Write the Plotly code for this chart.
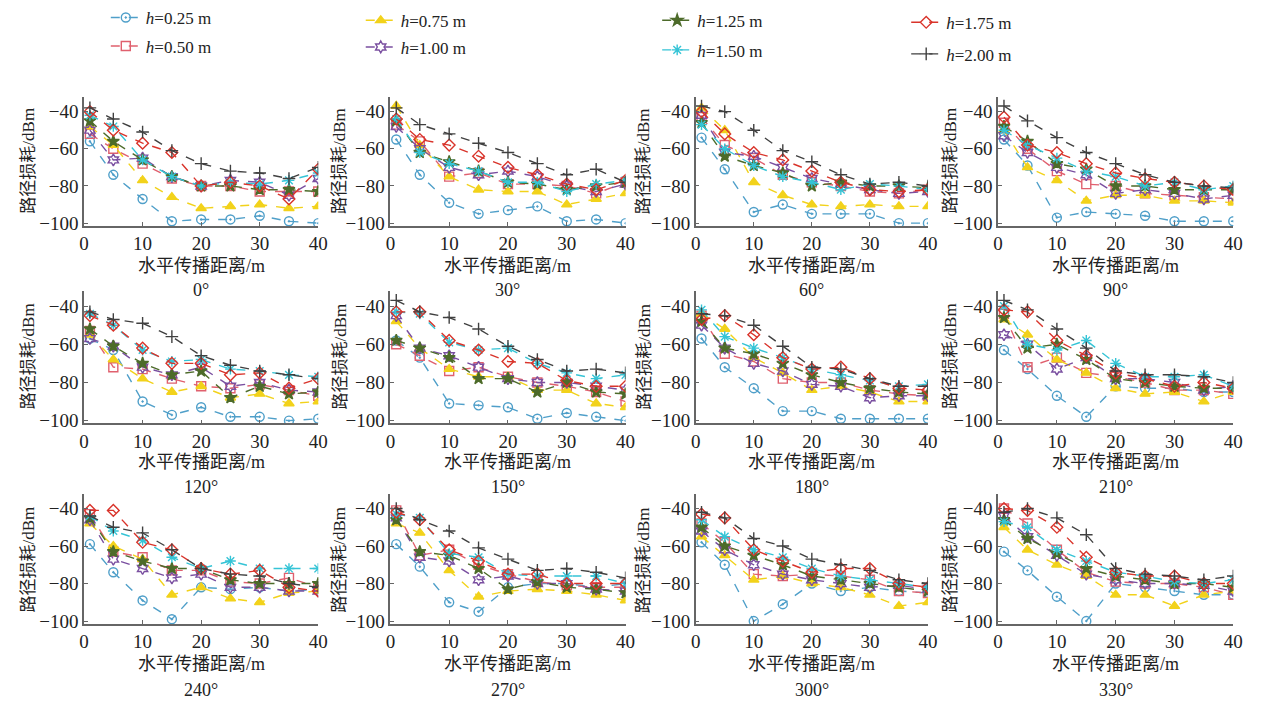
import plotly.graph_objects as go

# Horizontal propagation distance (m) at each measuring point
distance = [1, 5, 10, 15, 20, 25, 30, 35, 40]

# Antenna heights and their styles
heights = ["0.25", "0.50", "0.75", "1.00", "1.25", "1.50", "1.75", "2.00"]
colors = ["#4f9fc9", "#e0606e", "#f2d21b", "#7a4fa0", "#4d6b2a", "#35c4d6", "#d9342b", "#404040"]
symbols = ["circle-open-dot", "square-open", "triangle-up", "hexagram-open",
           "star", "asterisk-open", "diamond-open", "cross-thin-open"]

angles = ["0°", "30°", "60°", "90°", "120°", "150°", "180°", "210°", "240°", "270°", "300°", "330°"]

# Path loss (dBm) per azimuth, one list per height (0.25 ... 2.00 m)
loss_0 = [
    [-56, -74, -87, -99, -98, -98, -96, -99, -100],
    [-52, -60, -68, -76, -80, -80, -83, -83, -83],
    [-48, -58, -77, -86, -92, -91, -90, -92, -91],
    [-50, -66, -65, -75, -80, -77, -78, -85, -76],
    [-45, -56, -66, -75, -80, -80, -82, -82, -83],
    [-42, -48, -66, -75, -80, -78, -79, -77, -73],
    [-40, -50, -57, -62, -80, -78, -80, -87, -71],
    [-38, -44, -51, -61, -68, -72, -73, -76, -70],
]
loss_30 = [
    [-55, -74, -89, -95, -93, -91, -99, -98, -100],
    [-47, -56, -75, -73, -79, -79, -80, -84, -78],
    [-37, -58, -75, -82, -83, -83, -90, -87, -84],
    [-48, -60, -70, -74, -72, -75, -80, -83, -79],
    [-45, -62, -67, -72, -78, -79, -82, -80, -78],
    [-44, -62, -68, -72, -78, -78, -83, -79, -77],
    [-44, -55, -58, -64, -70, -74, -79, -82, -77],
    [-38, -47, -52, -57, -62, -68, -74, -71, -78],
]
loss_60 = [
    [-54, -71, -94, -90, -95, -95, -95, -100, -100],
    [-43, -58, -65, -74, -78, -80, -83, -84, -82],
    [-38, -50, -78, -85, -90, -91, -90, -91, -91],
    [-42, -62, -64, -70, -76, -79, -82, -84, -83],
    [-46, -64, -69, -73, -80, -78, -80, -80, -81],
    [-47, -60, -69, -75, -78, -82, -79, -80, -82],
    [-40, -52, -62, -66, -72, -78, -82, -83, -82],
    [-37, -40, -50, -61, -67, -74, -79, -78, -80],
]
loss_90 = [
    [-55, -69, -97, -94, -95, -96, -99, -99, -99],
    [-46, -60, -72, -79, -80, -84, -85, -86, -87],
    [-50, -70, -77, -88, -85, -85, -88, -88, -89],
    [-53, -62, -70, -74, -84, -82, -84, -87, -85],
    [-48, -56, -68, -71, -80, -80, -82, -82, -82],
    [-50, -58, -65, -72, -75, -80, -78, -82, -80],
    [-43, -58, -62, -68, -73, -76, -78, -80, -82],
    [-37, -45, -54, -62, -68, -74, -78, -80, -81],
]
loss_120 = [
    [-57, -63, -90, -97, -93, -98, -98, -100, -99],
    [-53, -72, -73, -78, -82, -83, -81, -84, -87],
    [-55, -68, -78, -85, -82, -88, -86, -91, -90],
    [-57, -61, -72, -76, -72, -82, -80, -84, -85],
    [-52, -61, -70, -76, -74, -88, -82, -86, -85],
    [-44, -50, -63, -69, -68, -73, -74, -76, -77],
    [-45, -50, -62, -70, -70, -76, -75, -83, -78],
    [-43, -47, -49, -56, -66, -71, -74, -76, -78],
]
loss_150 = [
    [-58, -67, -91, -92, -93, -99, -96, -98, -100],
    [-60, -66, -74, -72, -77, -80, -82, -85, -90],
    [-48, -62, -73, -77, -77, -84, -84, -91, -93],
    [-45, -62, -66, -72, -78, -80, -80, -82, -84],
    [-58, -62, -67, -78, -78, -85, -80, -85, -86],
    [-43, -44, -59, -63, -62, -70, -75, -78, -76],
    [-43, -43, -58, -63, -69, -70, -79, -82, -82],
    [-37, -43, -46, -52, -61, -68, -74, -73, -75],
]
loss_180 = [
    [-57, -72, -83, -95, -95, -99, -99, -99, -99],
    [-45, -65, -69, -78, -80, -80, -84, -86, -87],
    [-44, -52, -67, -75, -84, -82, -85, -90, -90],
    [-50, -62, -70, -74, -81, -82, -88, -87, -87],
    [-48, -62, -65, -70, -76, -80, -83, -85, -86],
    [-42, -56, -62, -67, -73, -76, -79, -82, -81],
    [-47, -45, -55, -67, -73, -72, -78, -83, -84],
    [-44, -45, -50, -61, -72, -73, -78, -82, -82],
]
loss_210 = [
    [-63, -73, -87, -98, -82, -83, -83, -85, -85],
    [-44, -72, -67, -75, -77, -80, -84, -84, -86],
    [-47, -55, -68, -75, -83, -86, -85, -90, -85],
    [-55, -60, -73, -67, -78, -78, -80, -84, -82],
    [-46, -62, -60, -68, -78, -80, -82, -83, -83],
    [-40, -60, -63, -58, -70, -77, -77, -76, -82],
    [-42, -43, -58, -66, -75, -78, -82, -80, -83],
    [-37, -42, -52, -62, -74, -76, -76, -77, -80],
]
loss_240 = [
    [-59, -74, -89, -99, -82, -83, -82, -84, -83],
    [-43, -63, -66, -73, -73, -79, -80, -77, -82],
    [-48, -60, -67, -86, -82, -88, -90, -85, -84],
    [-46, -67, -72, -77, -75, -82, -82, -84, -84],
    [-45, -63, -68, -72, -72, -78, -80, -80, -80],
    [-44, -52, -57, -66, -72, -68, -72, -72, -72],
    [-41, -41, -58, -62, -72, -75, -73, -82, -84],
    [-44, -50, -53, -62, -72, -75, -76, -80, -82],
]
loss_270 = [
    [-59, -71, -90, -95, -82, -80, -80, -82, -80],
    [-41, -65, -62, -70, -75, -79, -81, -82, -82],
    [-48, -53, -73, -87, -84, -83, -84, -86, -89],
    [-45, -66, -68, -78, -76, -80, -80, -83, -84],
    [-46, -63, -65, -72, -83, -79, -82, -83, -85],
    [-43, -45, -64, -66, -75, -76, -76, -76, -80],
    [-42, -46, -62, -68, -75, -75, -80, -80, -80],
    [-40, -46, -52, -61, -67, -73, -72, -74, -77],
]
loss_300 = [
    [-58, -70, -100, -91, -80, -84, -82, -84, -85],
    [-48, -58, -75, -76, -75, -76, -78, -84, -85],
    [-55, -65, -78, -76, -80, -82, -86, -92, -90],
    [-52, -62, -70, -75, -78, -80, -82, -81, -83],
    [-50, -60, -65, -70, -76, -78, -80, -82, -84],
    [-46, -55, -62, -66, -72, -76, -78, -80, -82],
    [-43, -45, -62, -68, -74, -72, -72, -80, -82],
    [-42, -45, -56, -60, -67, -70, -73, -78, -80],
]
loss_330 = [
    [-63, -73, -87, -100, -80, -82, -84, -86, -86],
    [-40, -48, -62, -74, -79, -80, -80, -82, -86],
    [-50, -62, -70, -76, -86, -86, -92, -86, -84],
    [-44, -55, -65, -75, -78, -80, -80, -81, -84],
    [-46, -56, -64, -72, -76, -78, -80, -80, -82],
    [-47, -50, -62, -68, -74, -76, -79, -80, -78],
    [-40, -41, -50, -66, -74, -76, -76, -80, -80],
    [-42, -40, -45, -54, -72, -75, -76, -78, -76],
]

panels = [loss_0, loss_30, loss_60, loss_90, loss_120, loss_150,
          loss_180, loss_210, loss_240, loss_270, loss_300, loss_330]

W, H = 1266, 713
SERIF = "Liberation Serif, Times New Roman, Noto Sans CJK SC, serif"
AXIS_COLOR = "#666666"
TEXT_COLOR = "#222222"

# Panel placement in pixels: x-axis span (0 -> 40 m) per column,
# and pixel rows of the -40 / -100 dBm ticks per row
col_px = [(80, 317), (390, 628), (699, 934), (1005, 1243)]
row_px = [(112, 225), (309, 425), (514, 628)]
Y_RANGE = [-101.5, -32]

# Text rows (pixels) for x-axis titles, panel captions; y-title positions
xtitle_y = [268, 467, 671]
caption_y = [293, 492, 698]
ytitle_x = [24, 339, 647, 957]
ytitle_y = [162, 360, 566]

fig = go.Figure()
layout_axes = {}
annotations = []

for p, data in enumerate(panels):
    r, c = divmod(p, 4)
    idx = p + 1
    xa = "x" if idx == 1 else f"x{idx}"
    ya = "y" if idx == 1 else f"y{idx}"

    x0, x1 = col_px[c]
    y40, y100 = row_px[r]
    scale = (y100 - y40) / 60.0
    top = y40 - (Y_RANGE[1] + 40) * scale
    bottom = y100 + (-100 - Y_RANGE[0]) * scale

    for k, h in enumerate(heights):
        fig.add_trace(go.Scatter(
            x=distance, y=data[k],
            mode="lines+markers",
            name=f"<i>h</i>={h} m",
            line=dict(color=colors[k], width=1.4, dash="dash"),
            marker=dict(symbol=symbols[k], size=9, color=colors[k],
                        line=dict(color=colors[k], width=1.4)),
            xaxis=xa, yaxis=ya,
            showlegend=(p == 0),
            legend="legend" if k == 0 else f"legend{k + 1}",
        ))

    axis_common = dict(
        showline=True, linecolor=AXIS_COLOR, linewidth=1.5,
        ticks="inside", ticklen=4, tickcolor=AXIS_COLOR, tickwidth=1,
        showgrid=False, zeroline=False,
        tickfont=dict(family=SERIF, size=19, color=TEXT_COLOR),
    )
    layout_axes["xaxis" if idx == 1 else f"xaxis{idx}"] = dict(
        axis_common, domain=[x0 / W, x1 / W], range=[0, 40],
        tickvals=[0, 10, 20, 30, 40], anchor=ya,
    )
    layout_axes["yaxis" if idx == 1 else f"yaxis{idx}"] = dict(
        axis_common, domain=[1 - bottom / H, 1 - top / H], range=Y_RANGE,
        tickvals=[-40, -60, -80, -100], anchor=xa,
    )

    cx = (x0 + x1) / 2
    annotations.append(dict(
        text="水平传播距离/m", x=cx / W, y=1 - xtitle_y[r] / H,
        xref="paper", yref="paper", xanchor="center", yanchor="middle",
        showarrow=False, font=dict(family=SERIF, size=18, color=TEXT_COLOR),
    ))
    annotations.append(dict(
        text=angles[p], x=cx / W, y=1 - caption_y[r] / H,
        xref="paper", yref="paper", xanchor="center", yanchor="middle",
        showarrow=False, font=dict(family=SERIF, size=18, color=TEXT_COLOR),
    ))
    annotations.append(dict(
        text="路径损耗/dBm", x=ytitle_x[c] / W, y=1 - ytitle_y[r] / H,
        xref="paper", yref="paper", xanchor="center", yanchor="middle",
        textangle=-90, showarrow=False,
        font=dict(family=SERIF, size=17, color=TEXT_COLOR),
    ))

# One legend box per height, laid out in four columns of two rows
legend_pos = [(102, 17), (102, 46), (360, 20), (360, 47),
              (660, 20), (660, 50), (912, 22), (912, 54)]
legends = {}
for k, (lx, ly) in enumerate(legend_pos):
    key = "legend" if k == 0 else f"legend{k + 1}"
    legends[key] = dict(
        x=lx / W, y=1 - ly / H, xanchor="left", yanchor="middle",
        bgcolor="rgba(0,0,0,0)", borderwidth=0,
        font=dict(family=SERIF, size=17, color=TEXT_COLOR),
        itemwidth=30,
    )

fig.update_layout(
    width=W, height=H,
    margin=dict(l=0, r=0, t=0, b=0),
    paper_bgcolor="white", plot_bgcolor="white",
    annotations=annotations,
    **layout_axes,
    **legends,
)

fig.write_html("out.html")
